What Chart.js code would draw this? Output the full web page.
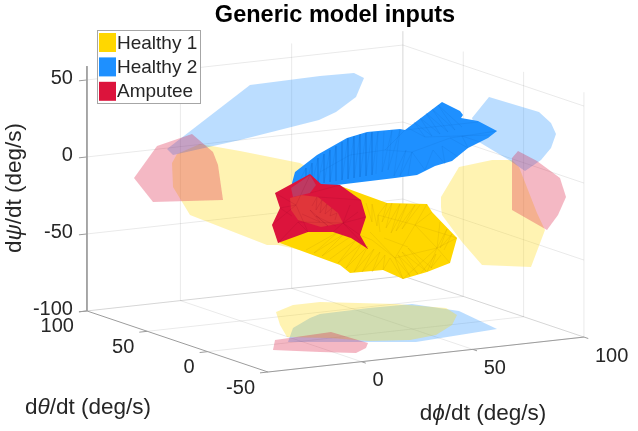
<!DOCTYPE html>
<html>
<head>
<meta charset="utf-8">
<title>Generic model inputs</title>
<script src="https://cdn.jsdelivr.net/npm/chart.js@4/dist/chart.umd.min.js"></script>
<style>
  html, body { margin: 0; padding: 0; background: #fff; }
  canvas { display: block; filter: blur(0.35px); }
</style>
</head>
<body>
<canvas id="chart" width="638" height="431"></canvas>
<script>
/* Values, in view-plane units */
const seriesNames = ["Healthy 1", "Healthy 2", "Amputee"];
const seriesColors = ["#FFD700", "#1E90FF", "#DC143C"];

const phiTicks = [0, 50, 100];
const thetaTicks = [100, 50, 0, -50];
const psiTicks = [50, 0, -50, -100];

/* shadows on the left wall */
const wallLeftHealthy1 = [[172,163],[177,154],[200,144],[240,151],[300,163],[320,175],[320,230],[300,250],[278,245],[267,245],[190,215],[173,187]];
const wallLeftHealthy2 = [[167,149],[250,85],[320,76],[354,73],[364,78],[356,97],[336,112],[319,120],[240,140],[173,155]];
const wallLeftAmputee = [[134,178],[157,146],[192,134],[213,152],[218,165],[223,200],[153,202]];

/* shadows on the right wall */
const wallRightHealthy1 = [[441,197],[459,167],[492,160],[512,160],[519,167],[537,213],[545,230],[531,267],[482,265],[462,242],[442,215],[441,207]];
const wallRightHealthy2 = [[489,97],[539,112],[551,123],[556,134],[551,148],[541,160],[525,171],[509,160],[479,142],[472,118]];
const wallRightAmputee = [[512,158],[518,151],[537,161],[560,178],[566,197],[558,215],[547,230],[512,210]];

/* shadows on the floor */
const floorHealthy1 = [[276,312],[293,305],[320,302],[396,304],[446,308],[457,315],[452,325],[436,335],[410,340],[369,341],[330,338],[287,337],[280,325]];
const floorHealthy2 = [[288,342],[293,328],[310,318],[320,314],[369,308],[412,304],[459,311],[497,329],[416,342],[369,342]];
const floorAmputee = [[273,350],[275,340],[331,332],[368,343],[366,348],[356,353],[320,352]];

/* surfaces */
const surfaceHealthy1 = [[290,210],[320,185],[335,184],[365,195],[387,203],[427,204],[432,212],[457,238],[450,263],[427,272],[403,279],[383,270],[350,273],[340,265],[280,243]];
const surfaceHealthy2 = [[442,102],[460,111],[463,115],[461,118],[478,121],[497,131],[488,138],[468,148],[452,161],[435,166],[417,175],[395,178],[337,185],[292,187],[292,183],[295,172],[317,155],[347,138],[367,132],[400,129],[405,130]];
const surfaceAmputee = [[275,193],[310,174],[321,184],[340,185],[361,200],[366,217],[360,235],[368,249],[351,238],[333,232],[308,232],[278,243],[272,225],[280,208]];
const amputeeOverHealthy1 = [[290,198],[301,195],[318,197],[338,213],[343,223],[321,227],[298,220],[291,210]];
const amputeeOverHealthy2 = [[291,188],[310,175],[316,185],[310,193],[293,197]];

/* facet edges of the surfaces, null breaks the line */
const meshHealthy1 = [
  [427,204],[415,225],[432,212],null,[415,225],[457,238],null,[415,225],[437,248],[457,238],null,
  [437,248],[450,263],null,[437,248],[427,272],null,[437,248],[403,279],null,[415,225],[395,258],[437,248],null,
  [395,258],[403,279],[390,258],[383,270],[385,255],[372,272],[380,252],[362,272],[374,249],[354,272],[368,246],[346,268],[362,243],[338,263],[356,240],[330,259],null,
  [350,237],[322,256],[344,234],[314,253],[338,232],[306,250],null,
  [395,258],[410,276],[398,255],[418,274],[402,252],[426,271],[408,248],[432,268],null,
  [378,215],[387,203],[382,222],[392,203],[386,228],[400,204],[391,233],[407,204],[396,231],[415,205],[402,229],[420,205],null,
  [366,203],[372,222],[372,204],[377,226],[378,215],[380,232],null,[378,215],[415,225],null,
  [370,232],[395,258],[372,240],[352,232],null,[384,238],[408,247],null,
  [440,222],[437,248],[447,229],[440,248],[452,234],[444,250],null,[441,255],[431,268],[436,254],[421,273]
];
const meshHealthy2 = [
  [300,180],[306,168],[306,184],[312,163],[312,184],[318,158],[318,183],[324,154],[324,183],[330,150],[330,182],[336,146],[336,181],null,
  [342,142],[342,180],[348,138],[348,179],[354,136],[354,178],[360,134],[360,177],[366,133],[366,176],[372,132],[372,175],[378,132],[376,174],null,
  [384,131],[382,172],[392,130],[388,170],[400,130],[394,176],[406,150],[400,176],[412,152],[408,175],null,
  [320,172],[350,155],[385,150],[405,130],null,[385,150],[412,152],[450,138],[497,131],null,[412,152],[425,170],[433,150],[445,164],[442,146],[458,157],null,
  [408,128],[425,137],[414,122],[432,136],[420,118],[440,134],[426,113],[448,132],[432,109],[455,130],[438,105],[462,127],null,
  [405,130],[478,122],null,[425,137],[490,135],null,[450,138],[468,148],[462,136],[480,142]
];
const meshAmputee = [
  [310,175],[296,205],[280,208],null,[296,205],[275,193],null,[310,193],[340,185],null,[318,197],[361,200],null,
  [296,205],[272,225],null,[296,205],[308,232],null,[278,243],[298,222],[308,232],null,
  [298,222],[343,223],[366,217],null,[343,223],[360,235],null,[343,223],[333,232],null,[343,223],[368,249],null,
  [312,206],[317,197],[316,210],[322,200],[320,213],[327,204],[325,214],[332,208],[330,216],[337,213],[335,220],null,
  [302,214],[320,222],[310,210],[328,226],[316,216],[336,226],null,[280,208],[292,216],null,[350,205],[343,223],[358,212]
];

/* axis box in the view plane: corners and scale per data unit */
const phiMin = -42;
const thetaMin = -50;
const thetaMax = 100;
const phiMax = 100;
const psiMin = -100;
const psiMax = 59;
function project(phi, theta, psi) {
  return {
    x: 268 + (phi - phiMin) * 2.225 - (theta - thetaMin) * 1.207,
    y: 372 - (phi - phiMin) * 0.246 - (theta - thetaMin) * 0.407 - (psi - psiMin) * 1.54
  };
}

function toPoints(list) {
  return list.map(p => p ? { x: p[0], y: p[1] } : { x: NaN, y: NaN });
}
function shape(list, color) {
  return { data: toPoints(list), backgroundColor: color, borderWidth: 0, fill: "shape", showLine: true, pointRadius: 0 };
}
function stroke(points, color, width) {
  return { data: points, borderColor: color, borderWidth: width, fill: false, showLine: true, pointRadius: 0 };
}

const gridColor = "rgba(0,0,0,0.085)";
const axisColor = "#9c9c9c";
const painted = [];

/* grid */
psiTicks.forEach(v => painted.push(stroke([project(phiMin, thetaMax, v), project(phiMax, thetaMax, v), project(phiMax, thetaMin, v)], gridColor, 1)));
phiTicks.forEach(v => painted.push(stroke([project(v, thetaMin, psiMin), project(v, thetaMax, psiMin), project(v, thetaMax, psiMax)], gridColor, 1)));
thetaTicks.forEach(v => painted.push(stroke([project(phiMin, v, psiMin), project(phiMax, v, psiMin), project(phiMax, v, psiMax)], gridColor, 1)));

/* axes and tick marks */
painted.push(stroke([project(phiMin, thetaMax, psiMax), project(phiMin, thetaMax, psiMin), project(phiMin, thetaMin, psiMin), project(phiMax, thetaMin, psiMin)], axisColor, 1));
psiTicks.forEach(v => painted.push(stroke([project(phiMin, thetaMax, v), project(phiMin - 3.6, thetaMax, v)], axisColor, 1)));
thetaTicks.forEach(v => painted.push(stroke([project(phiMin, v, psiMin), project(phiMin - 3.6, v, psiMin)], axisColor, 1)));
phiTicks.forEach(v => painted.push(stroke([project(v, thetaMin, psiMin), project(v, thetaMin - 3.6, psiMin)], axisColor, 1)));

/* shadows, then surfaces */
painted.push(shape(wallLeftHealthy1, "rgba(255,215,0,0.3)"));
painted.push(shape(wallLeftHealthy2, "rgba(30,144,255,0.3)"));
painted.push(shape(wallLeftAmputee, "rgba(220,20,60,0.3)"));
painted.push(shape(wallRightHealthy1, "rgba(255,215,0,0.3)"));
painted.push(shape(wallRightHealthy2, "rgba(30,144,255,0.3)"));
painted.push(shape(wallRightAmputee, "rgba(220,20,60,0.3)"));
painted.push(shape(floorHealthy2, "rgba(30,144,255,0.3)"));
painted.push(shape(floorHealthy1, "rgba(255,215,0,0.3)"));
painted.push(shape(floorAmputee, "rgba(220,20,60,0.3)"));

painted.push(shape(surfaceHealthy1, seriesColors[0]));
painted.push(stroke(toPoints(meshHealthy1), "rgba(170,130,0,0.24)", 0.6));
painted.push(shape(surfaceHealthy2, seriesColors[1]));
painted.push(stroke(toPoints(meshHealthy2), "rgba(0,70,160,0.16)", 0.6));
painted.push(shape(surfaceAmputee, seriesColors[2]));
painted.push(shape(amputeeOverHealthy1, "#E0363A"));
painted.push(shape(amputeeOverHealthy2, "#BE3A62"));
painted.push(stroke(toPoints(meshAmputee), "rgba(130,0,30,0.22)", 0.6));

/* chart.js paints the first dataset last, so flip the list */
const datasets = painted.slice().reverse();

const textColor = "#262626";
const tickFont = '20px "Liberation Sans"';
const legendFont = '19px "Liberation Sans"';
const labelFont = '22.5px "Liberation Sans"';
const greekFont = 'italic 22.5px "Liberation Sans"';

function richLabel(ctx, parts, x, y, rotate) {
  ctx.save();
  ctx.translate(x, y);
  if (rotate) ctx.rotate(-Math.PI / 2);
  let width = 0;
  parts.forEach(p => {
    ctx.font = p.greek ? greekFont : labelFont;
    width += ctx.measureText(p.text).width;
  });
  let pos = -width / 2;
  ctx.textAlign = "left";
  ctx.textBaseline = "middle";
  ctx.fillStyle = textColor;
  parts.forEach(p => {
    ctx.font = p.greek ? greekFont : labelFont;
    ctx.fillText(p.text, pos, 0);
    pos += ctx.measureText(p.text).width;
  });
  ctx.restore();
}

/* tick labels, axis labels and the legend box */
const annotations = {
  id: "annotations",
  afterDraw(chart) {
    const ctx = chart.ctx;
    const sx = chart.scales.x;
    const sy = chart.scales.y;
    const at = p => ({ x: sx.getPixelForValue(p.x), y: sy.getPixelForValue(p.y) });
    ctx.save();
    ctx.font = tickFont;
    ctx.fillStyle = textColor;
    ctx.textBaseline = "middle";

    ctx.textAlign = "right";
    psiTicks.forEach(v => {
      const p = at(project(phiMin, thetaMax, v));
      ctx.fillText(String(v), p.x - 14, p.y - 1);
    });
    thetaTicks.forEach(v => {
      const p = at(project(phiMin, v, psiMin));
      ctx.fillText(String(v), p.x - 13, p.y + 16);
    });
    ctx.textAlign = "left";
    phiTicks.forEach(v => {
      const p = at(project(v, thetaMin, psiMin));
      ctx.fillText(String(v), p.x + 11, p.y + 19);
    });
    ctx.restore();

    richLabel(ctx, [{ text: "d" }, { text: "θ", greek: true }, { text: "/dt (deg/s)" }], 88, 408, false);
    richLabel(ctx, [{ text: "d" }, { text: "ϕ", greek: true }, { text: "/dt (deg/s)" }], 483, 414, false);
    richLabel(ctx, [{ text: "d" }, { text: "ψ", greek: true }, { text: "/dt (deg/s)" }], 15, 188, true);

    /* legend */
    ctx.save();
    ctx.fillStyle = "#fff";
    ctx.fillRect(97.5, 30.5, 103, 73);
    ctx.strokeStyle = "#a6a6a6";
    ctx.lineWidth = 1;
    ctx.strokeRect(97.5, 30.5, 103, 73);
    ctx.font = legendFont;
    ctx.textAlign = "left";
    ctx.textBaseline = "middle";
    seriesNames.forEach((name, i) => {
      ctx.fillStyle = seriesColors[i];
      ctx.fillRect(99, 33 + i * 24.4, 17, 19);
      ctx.fillStyle = textColor;
      ctx.fillText(name, 117, 44 + i * 24);
    });
    ctx.restore();
  }
};

new Chart(document.getElementById("chart"), {
  type: "scatter",
  data: { datasets: datasets },
  plugins: [annotations],
  options: {
    responsive: false,
    animation: false,
    layout: { padding: { left: 32, right: 0, top: 0, bottom: 0 } },
    plugins: {
      legend: { display: false },
      tooltip: { enabled: false },
      title: {
        display: true,
        text: "Generic model inputs",
        fullSize: false,
        color: "#000",
        font: { family: "Liberation Sans", size: 23.5, weight: "bold", lineHeight: 1.2 },
        padding: { top: 1, bottom: -1.2 }
      }
    },
    scales: {
      x: { type: "linear", display: false, min: 32, max: 638 },
      y: { type: "linear", display: false, min: 28, max: 431, reverse: true }
    }
  }
});
</script>
</body>
</html>
